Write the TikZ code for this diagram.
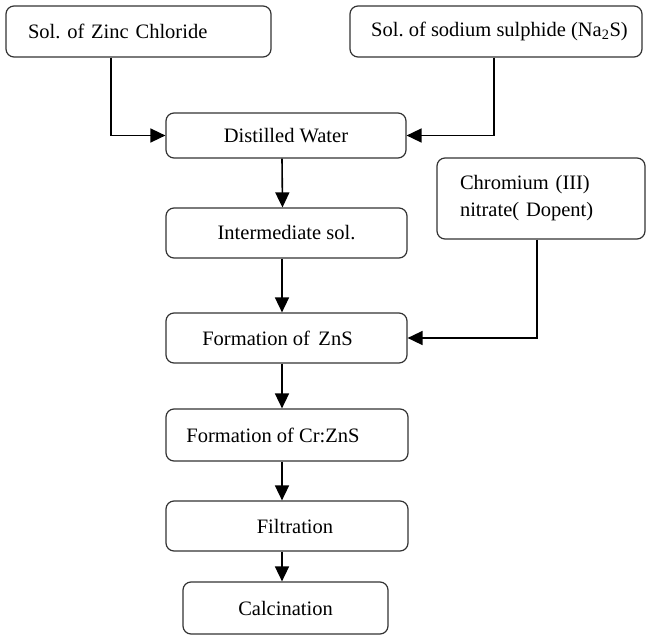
\documentclass[tikz,border=0pt]{standalone}
\usepackage{fontspec}
\setmainfont{Liberation Serif}
\usetikzlibrary{arrows.meta}
\tikzset{
  box/.style={draw=black!80, line width=1.2pt, rounded corners=8pt, inner sep=0pt,
    font=\fontsize{20.5}{27}\selectfont\frenchspacing, align=center},
  flow/.style={line width=1.6pt, -{Triangle[length=15pt,width=14pt]}}
}
\begin{document}
\begin{tikzpicture}[x=1pt,y=-1pt]
\useasboundingbox (0,0) rectangle (646,637);
\node[box, minimum width=265pt, minimum height=51pt, text width=221pt, align=left] (b1) at (138.5,31.5) {Sol. of Zinc Chloride};
\node[box, minimum width=292pt, minimum height=51pt] (b2) at (496,31.5) {\hspace{7pt}Sol. of sodium sulphide (Na\textsubscript{2}S)};
\node[box, minimum width=240pt, minimum height=45pt] (dw) at (286,135.5) {Distilled Water};
\node[box, minimum width=241pt, minimum height=50pt] (im) at (286.5,233) {Intermediate sol.};
\node[box, minimum width=208pt, minimum height=81pt, text width=162pt, align=left] (cr) at (541,198.5) {Chromium (III)\\nitrate( Dopent)};
\node[box, minimum width=241pt, minimum height=50pt] (zs) at (286.5,338) {Formation of\, ZnS\hspace{18pt}};
\node[box, minimum width=242pt, minimum height=52pt] (cz) at (287,435) {Formation of Cr:ZnS\hspace{28pt}};
\node[box, minimum width=242pt, minimum height=50pt] (fi) at (287,526) {\hspace{16pt}Filtration};
\node[box, minimum width=205pt, minimum height=52pt] (ca) at (285.5,608) {Calcination};
\draw[flow] ([xshift=-27.5pt]b1.south) |- (dw.west);
\draw[flow] ([xshift=-2pt]b2.south) |- (dw.east);
\draw[flow] ([xshift=-4pt]dw.south) -- ([xshift=-4pt]im.north);
\draw[flow] ([xshift=-4.5pt]im.south) -- ([xshift=-4.5pt]zs.north);
\draw[flow] ([xshift=-4pt]cr.south) |- (zs.east);
\draw[flow] ([xshift=-4.5pt]zs.south) -- ([xshift=-5pt]cz.north);
\draw[flow] ([xshift=-5pt]cz.south) -- ([xshift=-5pt]fi.north);
\draw[flow] ([xshift=-5pt]fi.south) -- ([xshift=-3.5pt]ca.north);
\end{tikzpicture}
\end{document}
